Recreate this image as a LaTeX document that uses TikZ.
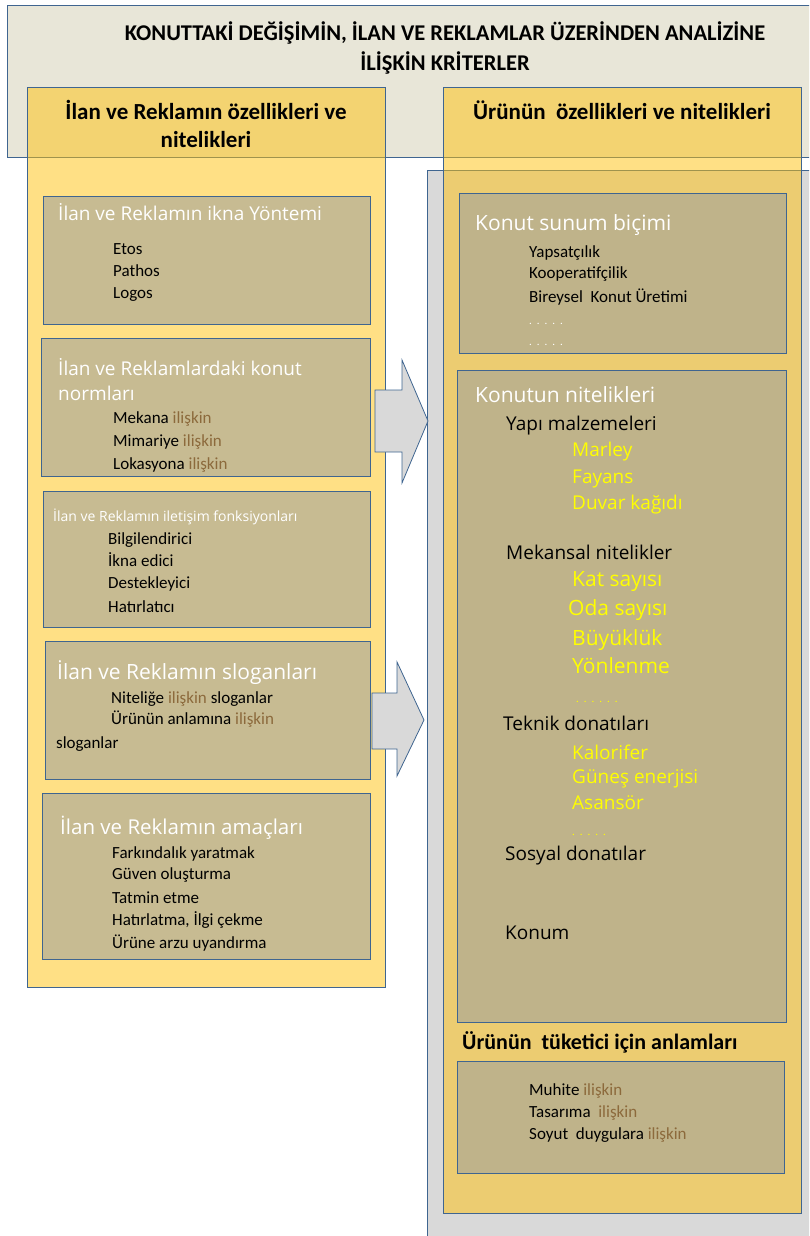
\documentclass[tikz,border=0pt]{standalone}
\usepackage{fontspec}
\setmainfont{Carlito}
\newfontfamily\osans{Open Sans}
\definecolor{edge}{HTML}{3F6590}
\definecolor{bannerfill}{HTML}{E8E6D8}
\definecolor{colyel}{HTML}{FFC10B}
\definecolor{backgray}{HTML}{D9D9D9}
\definecolor{tanfill}{HTML}{A2A39C}
\definecolor{ytext}{HTML}{FFFF00}
\definecolor{ilc}{HTML}{8C6A3C}
\newcommand{\ilis}{\textcolor{ilc}{ilişkin}}
\begin{document}
\begin{tikzpicture}[x=1pt, y=-1pt,
    box/.style={draw=edge, line width=0.8pt, anchor=north west, inner sep=0pt},
    colbox/.style={box, fill=colyel, fill opacity=.5},
    tanbox/.style={box, fill=tanfill, fill opacity=.6},
    head/.style={font=\bfseries\fontsize{23}{28}\selectfont, align=center},
    wtitle/.style={anchor=base west, inner sep=0pt, text=white, font=\osans\fontsize{19}{26}\selectfont},
    item/.style={anchor=base west, inner sep=0pt, font=\fontsize{17}{18}\selectfont},
    sub/.style={anchor=base west, inner sep=0pt, font=\osans\fontsize{19}{20}\selectfont},
    yitem/.style={anchor=base west, inner sep=0pt, text=ytext, font=\osans\fontsize{19}{20}\selectfont},
    bigy/.style={yitem, font=\osans\fontsize{21}{22}\selectfont},
    dots/.style={anchor=base west, inner sep=0pt, font=\fontsize{11}{11}\selectfont\addfontfeature{LetterSpace=45}},
    blockarrow/.style={draw=edge, line width=0.8pt, fill=backgray, line join=miter}]
  \useasboundingbox (0,0) rectangle (809,1236);
  \clip (0,0) rectangle (809,1236);

  % frames
  \node (banner) at (7,5) [box, fill=bannerfill, minimum width=820pt, minimum height=152pt] {};
  \node (back) at (427,170) [box, fill=backgray, minimum width=400pt, minimum height=1080pt] {};
  \node (lcol) at (27,87) [colbox, minimum width=358pt, minimum height=900pt] {};
  \node (rcol) at (443,87) [colbox, minimum width=358pt, minimum height=1126pt] {};

  \node (title) at (445,48) [font=\bfseries\fontsize{22.5}{30}\selectfont, align=center]
    {KONUTTAKİ DEĞİŞİMİN, İLAN VE REKLAMLAR ÜZERİNDEN ANALİZİNE\\İLİŞKİN KRİTERLER};
  \node (lhead) at (206,124) [head] {İlan ve Reklamın özellikleri ve\\nitelikleri};
  \node (rhead) at (622,110) [head] {Ürünün\ \ özellikleri ve nitelikleri};

  % left side
  \node (l1) at (43,196) [tanbox, minimum width=327pt, minimum height=128pt] {};
  \node (l1t) at (58,220) [wtitle] {İlan ve Reklamın ikna Yöntemi};
  \node (l1a) at (113,254) [item] {Etos};
  \node (l1b) at (113,276) [item] {Pathos};
  \node (l1c) at (113,298) [item] {Logos};

  \node (l2) at (41,338) [tanbox, minimum width=329pt, minimum height=138pt] {};
  \node (l2t) at (58,375) [wtitle] {İlan ve Reklamlardaki konut};
  \node (l2u) at (58,400) [wtitle] {normları};
  \node (l2a) at (113,423) [item] {Mekana \ilis};
  \node (l2b) at (113,446) [item] {Mimariye \ilis};
  \node (l2c) at (113,469) [item] {Lokasyona \ilis};

  \node (l3) at (43,491) [tanbox, minimum width=327pt, minimum height=136pt] {};
  \node (l3t) at (53,521) [wtitle, font=\osans\fontsize{14}{16}\selectfont] {İlan ve Reklamın iletişim fonksiyonları};
  \node (l3a) at (108,544) [item] {Bilgilendirici};
  \node (l3b) at (108,566) [item] {İkna edici};
  \node (l3c) at (108,588) [item] {Destekleyici};
  \node (l3d) at (108,612) [item] {Hatırlatıcı};

  \node (l4) at (45,641) [tanbox, minimum width=325pt, minimum height=138pt] {};
  \node (l4t) at (57,679) [wtitle, font=\osans\fontsize{21}{24}\selectfont] {İlan ve Reklamın sloganları};
  \node (l4a) at (111,703) [item] {Niteliğe \ilis\ sloganlar};
  \node (l4b) at (111,724) [item] {Ürünün anlamına \ilis};
  \node (l4c) at (56,748) [item] {sloganlar};

  \node (l5) at (42,793) [tanbox, minimum width=328pt, minimum height=166pt] {};
  \node (l5t) at (60,834) [wtitle, font=\osans\fontsize{20.5}{24}\selectfont] {İlan ve Reklamın amaçları};
  \node (l5a) at (112,858) [item] {Farkındalık yaratmak};
  \node (l5b) at (112,879) [item] {Güven oluşturma};
  \node (l5c) at (112,903) [item] {Tatmin etme};
  \node (l5d) at (112,925) [item] {Hatırlatma, İlgi çekme};
  \node (l5e) at (112,948) [item] {Ürüne arzu uyandırma};

  % right side
  \node (r1) at (459,193) [tanbox, minimum width=327pt, minimum height=160pt] {};
  \node (r1t) at (475,230) [wtitle, font=\osans\fontsize{21}{24}\selectfont] {Konut sunum biçimi};
  \node (r1a) at (529,257) [item] {Yapsatçılık};
  \node (r1b) at (529,278) [item] {Kooperatifçilik};
  \node (r1c) at (529,302) [item] {Bireysel\ \ Konut Üretimi};
  \node (r1d) at (529,324) [dots, text=white] {.....};
  \node (r1e) at (529,345) [dots, text=white] {.....};

  \node (r2) at (457,370) [tanbox, minimum width=329pt, minimum height=652pt] {};
  \node (r2t) at (475,402) [wtitle, font=\osans\fontsize{21}{24}\selectfont] {Konutun nitelikleri};
  \node (ym) at (506,430) [sub] {Yapı malzemeleri};
  \node (ym1) at (572,456) [yitem] {Marley};
  \node (ym2) at (572,483) [yitem] {Fayans};
  \node (ym3) at (572,509) [yitem] {Duvar kağıdı};
  \node (mn) at (506,559) [sub] {Mekansal nitelikler};
  \node (mn1) at (572,586) [bigy] {Kat sayısı};
  \node (mn2) at (568,615) [bigy] {Oda sayısı};
  \node (mn3) at (572,645) [bigy] {Büyüklük};
  \node (mn4) at (572,673) [bigy] {Yönlenme};
  \node (mn5) at (576,702) [dots, text=ytext] {......};
  \node (td) at (503,730) [sub] {Teknik donatıları};
  \node (td1) at (572,759) [yitem] {Kalorifer};
  \node (td2) at (572,783) [yitem] {Güneş enerjisi};
  \node (td3) at (572,809) [yitem] {Asansör};
  \node (td4) at (572,835) [dots, text=ytext] {.....};
  \node (sd) at (505,860) [sub] {Sosyal donatılar};
  \node (kn) at (505,939) [sub] {Konum};

  \node (anl) at (462,1049) [anchor=base west, inner sep=0pt, font=\bfseries\fontsize{22}{24}\selectfont] {Ürünün\ \ tüketici için anlamları};
  \node (r3) at (457,1061) [tanbox, minimum width=327pt, minimum height=112pt] {};
  \node (r3a) at (529,1095) [item] {Muhite \ilis};
  \node (r3b) at (529,1117) [item] {Tasarıma\ \ \ilis};
  \node (r3c) at (529,1139) [item] {Soyut\ \ duygulara \ilis};

  % block arrows
  \draw[blockarrow] (375,390) -- (402,390) -- (402,360) -- (428,421) -- (402,483) -- (402,452) -- (375,452) -- cycle;
  \draw[blockarrow] (372,693) -- (397,693) -- (397,662) -- (424,720) -- (397,776) -- (397,749) -- (372,749) -- cycle;
\end{tikzpicture}
\end{document}
